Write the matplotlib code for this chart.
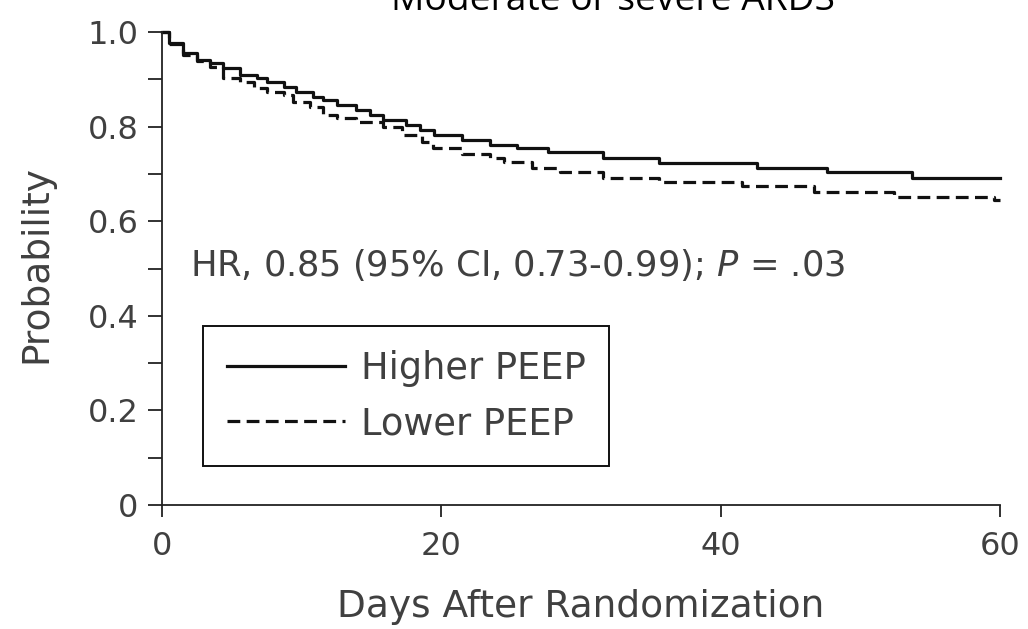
import matplotlib
matplotlib.use("Agg")
from matplotlib import pyplot as plt
from matplotlib.ticker import MultipleLocator

# Kaplan-Meier steps (day, probability)
higher_days = [0, 0.5, 1.5, 2.5, 3.4, 4.4, 5.6, 6.8, 7.5, 8.7, 9.6, 10.8, 11.5, 12.5, 13.9,
               14.9, 15.8, 17.5, 18.5, 19.5, 21.5, 23.5, 25.4, 27.6, 31.6, 35.6, 42.6, 47.6,
               53.7, 60]
higher_prob = [1.0, 0.976, 0.955, 0.941, 0.934, 0.923, 0.909, 0.902, 0.895, 0.884, 0.874, 0.863,
               0.856, 0.846, 0.835, 0.825, 0.814, 0.803, 0.793, 0.782, 0.772, 0.761, 0.755, 0.746,
               0.733, 0.723, 0.712, 0.704, 0.691, 0.691]

lower_days = [0, 0.5, 1.5, 2.5, 3.4, 4.4, 5.6, 6.6, 7.5, 8.7, 9.4, 10.6, 11.5, 12.5, 13.9, 15.8,
              17.2, 18.6, 19.4, 21.5, 23.5, 24.5, 26.5, 28.5, 31.6, 35.6, 41.5, 46.7, 52.4, 59.6,
              60]
lower_prob = [1.0, 0.974, 0.952, 0.938, 0.927, 0.902, 0.895, 0.881, 0.874, 0.867, 0.853, 0.842,
              0.825, 0.818, 0.810, 0.800, 0.782, 0.768, 0.754, 0.743, 0.733, 0.725, 0.712, 0.704,
              0.691, 0.683, 0.674, 0.662, 0.651, 0.645, 0.645]

x_ticks = [0, 20, 40, 60]
y_ticks = [0, 0.2, 0.4, 0.6, 0.8, 1.0]
y_tick_labels = ["0", "0.2", "0.4", "0.6", "0.8", "1.0"]

title = "Moderate or severe ARDS"
hr_text = "HR, 0.85 (95% CI, 0.73-0.99); $\\it{P}$ = .03"

plt.rcParams["font.family"] = ["DejaVu Sans"]
plt.rcParams["mathtext.fontset"] = "dejavusans"

text_col = "#404040"
line_col = "#111111"

fig = plt.figure(figsize=(10.28, 6.29), dpi=100)
ax = fig.add_axes([0.1576, 0.1971, 0.8152, 0.752])

ax.step(higher_days, higher_prob, where="post", color=line_col, lw=2.3,
        label="Higher PEEP", clip_on=False)
ax.step(lower_days, lower_prob, where="post", color=line_col, lw=2.3,
        linestyle=(0, (4, 2)), label="Lower PEEP", clip_on=False)

ax.set_xlim(0, 60)
ax.set_ylim(0, 1.0)
ax.set_xticks(x_ticks)
ax.set_yticks(y_ticks)
ax.set_yticklabels(y_tick_labels)
ax.yaxis.set_minor_locator(MultipleLocator(0.1))

for side in ["top", "right"]:
    ax.spines[side].set_visible(False)
for side in ["left", "bottom"]:
    ax.spines[side].set_linewidth(1.3)
    ax.spines[side].set_color("#222222")

ax.tick_params(axis="y", which="both", direction="out", length=10, width=1.3,
               color="#222222", labelsize=23, labelcolor=text_col, pad=7)
ax.tick_params(axis="x", which="major", direction="out", length=8.6, width=1.3,
               color="#222222", labelsize=23, labelcolor=text_col, pad=10)

ax.set_xlabel("Days After Randomization", fontsize=27, color=text_col)
ax.set_ylabel("Probability", fontsize=27, color=text_col)
ax.xaxis.set_label_coords(0.5, -0.177)
ax.yaxis.set_label_coords(-0.128, 0.51)

ax.text(0.0334, 0.507, hr_text, transform=ax.transAxes, fontsize=25.4, color=text_col,
        va="center", ha="left")

leg = ax.legend(loc="upper left", bbox_to_anchor=(0.0489, 0.378), borderaxespad=0,
                fontsize=26.5, handlelength=3.23, handletextpad=0.41, labelspacing=0.5,
                borderpad=0.64, fancybox=False, framealpha=1, edgecolor="#111111")
leg.get_frame().set_linewidth(1.4)
for t in leg.get_texts():
    t.set_color(text_col)

fig.text(613 / 1028, 1 - 10 / 629, title, fontsize=26.7, family=["Open Sans", "DejaVu Sans"],
         ha="center", va="baseline", color="black")

fig.savefig("out.png", dpi=100)
